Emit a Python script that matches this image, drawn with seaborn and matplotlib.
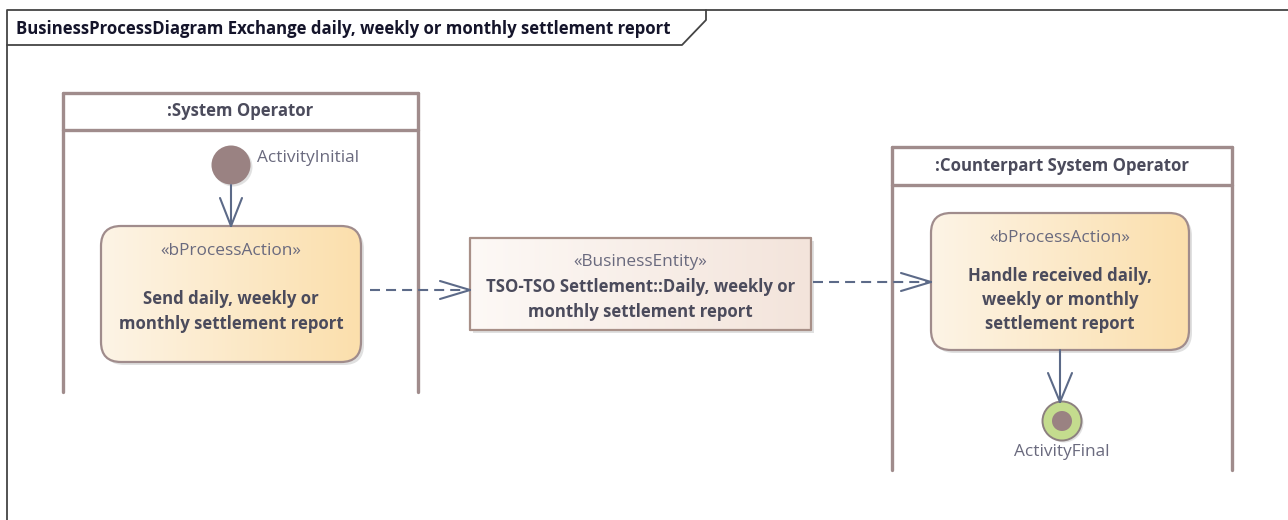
import numpy as np
import matplotlib
matplotlib.use("Agg")
import matplotlib.pyplot as plt
import seaborn as sns
from matplotlib.patches import FancyBboxPatch, Circle
from matplotlib.colors import LinearSegmentedColormap

sns.set_theme(style="white")
plt.rcParams['font.family'] = ['Open Sans', 'DejaVu Sans']

# ---- content ----
title = "BusinessProcessDiagram Exchange daily, weekly or monthly settlement report"
lane_names = [":System Operator", ":Counterpart System Operator"]
action_stereo = ["«bProcessAction»", "«bProcessAction»"]
action_texts = ["Send daily, weekly or\nmonthly settlement report",
                "Handle received daily,\nweekly or monthly\nsettlement report"]
entity_stereo = "«BusinessEntity»"
entity_text = "TSO-TSO Settlement::Daily, weekly or\nmonthly settlement report"
initial_label = "ActivityInitial"
final_label = "ActivityFinal"

# ---- geometry (pixels) ----
W, H = 1288, 520
frame_left, frame_top = 7, 10
tab_box = [7, 10, 706, 45]
lane_x = [(63, 418), (892, 1232)]
lane_top = [93, 147]
lane_header_h = [37, 38]
lane_bottom = [392, 470]
action_boxes = [(101, 226, 361, 362), (931, 213, 1189, 350)]
action_text_y = [311.5, 300]
entity_box = (470, 238, 811, 330)
initial_center = (231, 165)
final_center = (1062, 421)

# ---- styles ----
LANE_C = "#a08c8c"
ARROW_C = "#5c6a88"
TEXT_C = "#4b4b5c"
STEREO_C = "#6a6a7e"
NODE_C = "#9a8282"
FS_BOLD = 12.1
FS_REG = 12.4

fig = plt.figure(figsize=(12.88, 5.2), dpi=100)
ax = fig.add_axes([0, 0, 1, 1])
ax.axis('off')


def grad_box(box, c0, c1, edge, rounding):
    x0, y0, x1, y1 = box
    sh = FancyBboxPatch((x0 + 3, y0 + 3), x1 - x0, y1 - y0,
                        boxstyle=f"round,pad=0,rounding_size={rounding}",
                        fc="#000000", ec="none", alpha=0.12, zorder=1)
    ax.add_patch(sh)
    p = FancyBboxPatch((x0, y0), x1 - x0, y1 - y0,
                       boxstyle=f"round,pad=0,rounding_size={rounding}",
                       fc="none", ec=edge, lw=1.6, zorder=3)
    ax.add_patch(p)
    cmap = LinearSegmentedColormap.from_list("g", [c0, c1])
    im = ax.imshow(np.linspace(0, 1, 256).reshape(1, -1), cmap=cmap,
                   extent=(x0, x1, y1, y0), aspect='auto', zorder=2,
                   interpolation='bilinear')
    im.set_clip_path(p)


def open_head(tip, direction, length=28, half=11):
    d = np.array(direction, float)
    d /= np.linalg.norm(d)
    n = np.array([-d[1], d[0]])
    tip = np.array(tip, float)
    base = tip - d * length
    for s in (1, -1):
        q = base + n * half * s
        ax.plot([q[0], tip[0]], [q[1], tip[1]], color=ARROW_C, lw=1.5,
                solid_capstyle='round', zorder=4)


# outer frame (open on the right and bottom)
ax.plot([frame_left, frame_left, W + 5], [H + 5, frame_top, frame_top], color="#444444", lw=1.3, zorder=2)
tx0, ty0, tx1, ty1 = tab_box
ax.plot([tx0, tx1 - 24, tx1, tx1], [ty1, ty1, ty0 + 10, ty0], color="#444444", lw=1.3, zorder=2)
ax.text(tx0 + 9, (ty0 + ty1) / 2 + 1, title, fontsize=FS_BOLD, fontweight='bold',
        color="#14142a", va='center', ha='left', zorder=5)

# lanes
for (lx0, lx1), top, hh, bot, name in zip(lane_x, lane_top, lane_header_h, lane_bottom, lane_names):
    ax.plot([lx0, lx0], [top, bot], color=LANE_C, lw=2.4, zorder=2)
    ax.plot([lx1, lx1], [top, bot], color=LANE_C, lw=2.4, zorder=2)
    ax.plot([lx0, lx1], [top, top], color=LANE_C, lw=2.4, zorder=2)
    ax.plot([lx0, lx1], [top + hh, top + hh], color=LANE_C, lw=2.4, zorder=2)
    ax.text((lx0 + lx1) / 2, top + hh / 2, name, fontsize=FS_BOLD, fontweight='bold',
            color=TEXT_C, ha='center', va='center', zorder=5)

# actions
for box, st, txt, ty in zip(action_boxes, action_stereo, action_texts, action_text_y):
    grad_box(box, "#fdf4e6", "#fbdfac", "#a08c8c", 20)
    x0, y0, x1, y1 = box
    cx = (x0 + x1) / 2
    ax.text(cx, y0 + 25, st, fontsize=FS_REG, color=STEREO_C, ha='center', va='center', zorder=5)
    ax.text(cx, ty, txt, fontsize=FS_BOLD, fontweight='bold', color=TEXT_C,
            ha='center', va='center', linespacing=1.45, zorder=5)

# entity
grad_box(entity_box, "#fdf9f6", "#f3e4db", "#a89088", 0.1)
ex0, ey0, ex1, ey1 = entity_box
ax.text((ex0 + ex1) / 2, ey0 + 24, entity_stereo, fontsize=FS_REG, color=STEREO_C,
        ha='center', va='center', zorder=5)
ax.text((ex0 + ex1) / 2, 299.5, entity_text, fontsize=FS_BOLD, fontweight='bold', color=TEXT_C,
        ha='center', va='center', linespacing=1.45, zorder=5)

# initial node
ax.add_patch(Circle((initial_center[0] + 2, initial_center[1] + 2), 19.5, fc="#000000", alpha=0.12, zorder=2))
ax.add_patch(Circle(initial_center, 19.5, fc=NODE_C, ec="none", zorder=3))
ax.text(initial_center[0] + 26, initial_center[1] - 7, initial_label, fontsize=FS_REG,
        color=STEREO_C, ha='left', va='center', zorder=5)

# final node
ax.add_patch(Circle((final_center[0] + 2, final_center[1] + 2), 19.5, fc="#000000", alpha=0.12, zorder=2))
ax.add_patch(Circle(final_center, 19.5, fc="#c4dc8e", ec="#8c8080", lw=1.4, zorder=3))
ax.add_patch(Circle(final_center, 10, fc=NODE_C, ec="none", zorder=4))
ax.text(final_center[0], final_center[1] + 31, final_label, fontsize=FS_REG,
        color=STEREO_C, ha='center', va='center', zorder=5)

# control flows
ax.plot([initial_center[0]] * 2, [initial_center[1] + 20, action_boxes[0][1]], color=ARROW_C, lw=1.5, zorder=4)
open_head((initial_center[0], action_boxes[0][1]), (0, 1))
ax.plot([final_center[0] - 2] * 2, [action_boxes[1][3], final_center[1] - 19], color=ARROW_C, lw=1.5, zorder=4)
open_head((final_center[0] - 2, final_center[1] - 19), (0, 1), length=29, half=12)

# object flows (dashed)
ax.plot([370, ex0], [290, 290], color=ARROW_C, lw=1.5, dashes=(4.8, 2.9), zorder=4)
open_head((ex0, 290), (1, 0), length=30, half=9)
ax.plot([ex1 + 2, action_boxes[1][0]], [282, 282], color=ARROW_C, lw=1.5, dashes=(4.8, 2.9), zorder=4)
open_head((action_boxes[1][0], 282), (1, 0), length=30, half=9)

ax.set_xlim(0, W)
ax.set_ylim(H, 0)
fig.savefig("out.png", dpi=100, facecolor="white")
